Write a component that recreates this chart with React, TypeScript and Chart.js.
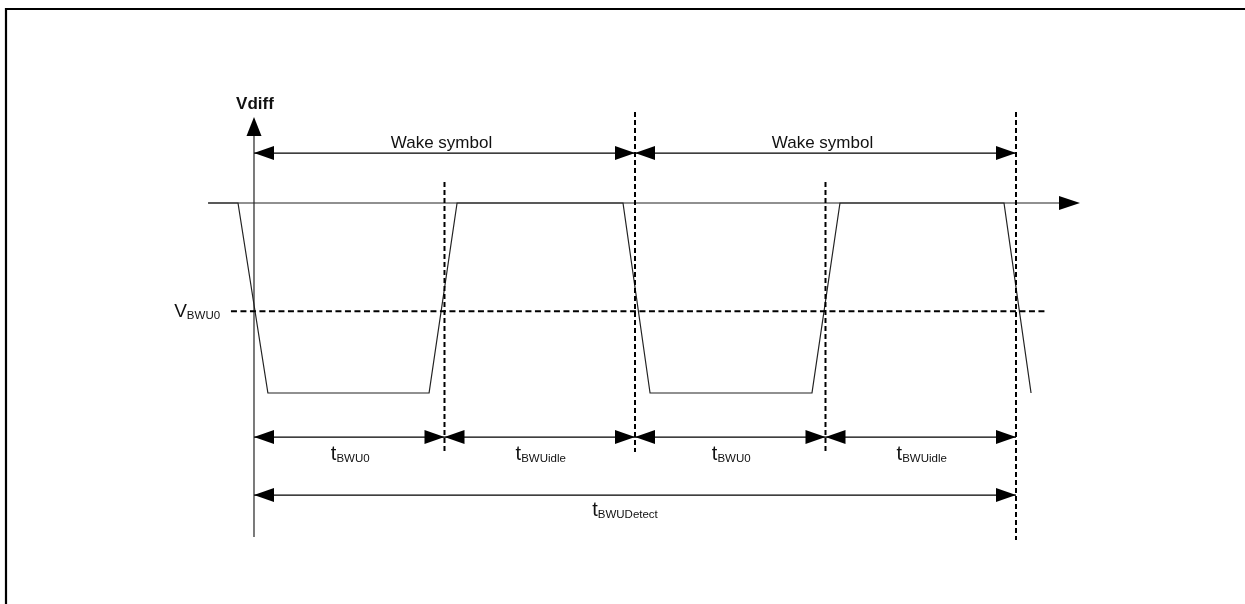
import React, { useEffect, useRef } from 'react';
import { Chart, registerables } from 'chart.js';

Chart.register(...registerables);

// ---- data (time in arbitrary units, level in arbitrary units; 0 = idle level) ----
const signalTime = [-2.41, -0.84, 0.73, 9.19, 10.66, 19.37, 20.79, 29.29, 30.76, 39.37, 40.79];
const signalLevel = [0, 0, -10, -10, 0, 0, -10, -10, 0, 0, -10];
const thresholdLevel = -5.7;
const thresholdSpan = [-1.21, 41.52];
const phaseBounds = [0, 10, 20, 30, 40];
const phaseNames = ['BWU0', 'BWUidle', 'BWU0', 'BWUidle'];
const wakeBounds = [0, 20, 40];
const wakeLabel = 'Wake symbol';
const detectBounds = [0, 40];
const detectName = 'BWUDetect';
const thresholdName = 'BWU0';
const axisTitle = 'Vdiff';

// ---- layout (value units) ----
const X_MIN = -13.333;
const X_MAX = 52.021;
const Y_MIN = -21.105;
const Y_MAX = 10.684;
const TIME_AXIS_SPAN = [-2.41, 43.36];
const LEVEL_AXIS_SPAN = [-17.58, 4.53];
const WAKE_ARROW_Y = 2.63;
const PHASE_ARROW_Y = -12.32;
const DETECT_ARROW_Y = -15.37;
const MARKER_TOP = [1.1, 4.79, 1.1, 4.79];
const MARKER_BOTTOM = [-13.1, -13.1, -13.1, -17.74];
const THRESHOLD_LABEL_X = -1.78;

const FONT = '"Liberation Sans", Arial, Helvetica, sans-serif';

type Pt = { x: number; y: number | null };

function spans(bounds: number[], y: number): Pt[] {
  const out: Pt[] = [];
  for (let i = 0; i < bounds.length - 1; i++) {
    out.push({ x: bounds[i], y }, { x: bounds[i + 1], y }, { x: bounds[i + 1], y: null });
  }
  return out;
}

function drawHead(ctx: CanvasRenderingContext2D, tx: number, ty: number, dx: number, dy: number, len = 20, half = 7) {
  const bx = tx - dx * len;
  const by = ty - dy * len;
  const nx = -dy;
  const ny = dx;
  ctx.beginPath();
  ctx.moveTo(tx, ty);
  ctx.lineTo(bx + nx * half, by + ny * half);
  ctx.lineTo(bx - nx * half, by - ny * half);
  ctx.closePath();
  ctx.fill();
}

function drawSub(
  ctx: CanvasRenderingContext2D,
  main: string,
  sub: string,
  x: number,
  baseline: number,
  align: 'center' | 'right',
  mainSize = 20,
  subSize = 11.5
) {
  ctx.textAlign = 'left';
  ctx.textBaseline = 'alphabetic';
  ctx.font = `${mainSize}px ${FONT}`;
  const wm = ctx.measureText(main).width;
  ctx.font = `${subSize}px ${FONT}`;
  const ws = ctx.measureText(sub).width;
  const total = wm + ws;
  const left = align === 'center' ? x - total / 2 : x - total;
  ctx.font = `${mainSize}px ${FONT}`;
  ctx.fillText(main, left, baseline);
  ctx.font = `${subSize}px ${FONT}`;
  ctx.fillText(sub, left + wm, baseline + 2);
}

const diagramPlugin = {
  id: 'diagram',
  beforeDraw(chart: any) {
    const { ctx, width, height } = chart;
    ctx.save();
    ctx.fillStyle = '#ffffff';
    ctx.fillRect(0, 0, width, height);
    ctx.strokeStyle = '#000000';
    ctx.lineWidth = 2.2;
    ctx.beginPath();
    ctx.moveTo(6, height + 4);
    ctx.lineTo(6, 9);
    ctx.lineTo(width + 4, 9);
    ctx.stroke();
    ctx.restore();
  },
  afterDatasetsDraw(chart: any) {
    const ctx: CanvasRenderingContext2D = chart.ctx;
    const xs = chart.scales.x;
    const ys = chart.scales.y;
    const px = (v: number) => xs.getPixelForValue(v);
    const py = (v: number) => ys.getPixelForValue(v);
    ctx.save();
    ctx.fillStyle = '#000000';

    // axis arrowheads
    drawHead(ctx, px(TIME_AXIS_SPAN[1]), py(0), 1, 0, 21, 7);
    drawHead(ctx, px(0), py(LEVEL_AXIS_SPAN[1]), 0, -1, 19, 7.5);

    // dimension arrowheads
    const heads = (bounds: number[], yv: number) => {
      for (let i = 0; i < bounds.length - 1; i++) {
        drawHead(ctx, px(bounds[i]), py(yv), -1, 0);
        drawHead(ctx, px(bounds[i + 1]), py(yv), 1, 0);
      }
    };
    heads(wakeBounds, WAKE_ARROW_Y);
    heads(phaseBounds, PHASE_ARROW_Y);
    heads(detectBounds, DETECT_ARROW_Y);

    // texts
    ctx.fillStyle = '#111111';
    ctx.font = `bold 17px ${FONT}`;
    ctx.textAlign = 'center';
    ctx.textBaseline = 'alphabetic';
    ctx.fillText(axisTitle, px(0) + 1, py(LEVEL_AXIS_SPAN[1]) - 8);

    ctx.font = `17px ${FONT}`;
    for (let i = 0; i < wakeBounds.length - 1; i++) {
      const mid = (wakeBounds[i] + wakeBounds[i + 1]) / 2;
      ctx.fillText(wakeLabel, px(mid) - 3, py(WAKE_ARROW_Y) - 5);
    }

    for (let i = 0; i < phaseNames.length; i++) {
      const mid = (phaseBounds[i] + phaseBounds[i + 1]) / 2;
      drawSub(ctx, 't', phaseNames[i], px(mid) + 1, py(PHASE_ARROW_Y) + 23, 'center');
    }
    drawSub(ctx, 't', detectName, px((detectBounds[0] + detectBounds[1]) / 2) - 10, py(DETECT_ARROW_Y) + 21, 'center');
    drawSub(ctx, 'V', thresholdName, px(THRESHOLD_LABEL_X), py(thresholdLevel) + 6, 'right', 19, 11.5);

    ctx.restore();
  },
};

export default function App() {
  const ref = useRef<HTMLCanvasElement | null>(null);

  useEffect(() => {
    if (!ref.current) return;

    const signal: Pt[] = signalTime.map((t, i) => ({ x: t, y: signalLevel[i] }));
    const timeAxis: Pt[] = [
      { x: TIME_AXIS_SPAN[0], y: 0 },
      { x: TIME_AXIS_SPAN[1] - 0.5, y: 0 },
    ];
    const levelAxis: Pt[] = [
      { x: 0, y: LEVEL_AXIS_SPAN[0] },
      { x: 0, y: LEVEL_AXIS_SPAN[1] - 0.5 },
    ];
    const threshold: Pt[] = [
      { x: thresholdSpan[0], y: thresholdLevel },
      { x: thresholdSpan[1], y: thresholdLevel },
    ];
    const markers: Pt[] = [];
    phaseBounds.slice(1).forEach((b, i) => {
      markers.push({ x: b, y: MARKER_TOP[i] }, { x: b, y: MARKER_BOTTOM[i] }, { x: b, y: null });
    });
    const shafts: Pt[] = [
      ...spans(wakeBounds, WAKE_ARROW_Y),
      ...spans(phaseBounds, PHASE_ARROW_Y),
      ...spans(detectBounds, DETECT_ARROW_Y),
    ];

    const common = { showLine: true, pointRadius: 0, pointHoverRadius: 0, fill: false, tension: 0, spanGaps: false };

    const chart = new Chart(ref.current, {
      type: 'scatter',
      data: {
        datasets: [
          { ...common, label: 'threshold', data: threshold as any, borderColor: '#000', borderWidth: 2, borderDash: [6, 3.5] },
          { ...common, label: 'markers', data: markers as any, borderColor: '#000', borderWidth: 2, borderDash: [5, 3] },
          { ...common, label: 'time axis', data: timeAxis as any, borderColor: '#222', borderWidth: 1.2 },
          { ...common, label: 'level axis', data: levelAxis as any, borderColor: '#222', borderWidth: 1.2 },
          { ...common, label: 'shafts', data: shafts as any, borderColor: '#000', borderWidth: 1.2 },
          { ...common, label: 'Vdiff', data: signal as any, borderColor: '#222', borderWidth: 1.2 },
        ],
      },
      options: {
        animation: false,
        responsive: false,
        maintainAspectRatio: false,
        events: [],
        layout: { padding: 0 },
        plugins: { legend: { display: false }, tooltip: { enabled: false } },
        scales: {
          x: { type: 'linear', min: X_MIN, max: X_MAX, display: false },
          y: { type: 'linear', min: Y_MIN, max: Y_MAX, display: false },
        },
      },
      plugins: [diagramPlugin],
    });

    return () => chart.destroy();
  }, []);

  return (
    <div style={{ position: 'absolute', left: 0, top: 0, width: 1245, height: 604, background: '#fff' }}>
      <canvas ref={ref} width={1245} height={604} style={{ width: 1245, height: 604, display: 'block' }} />
    </div>
  );
}
